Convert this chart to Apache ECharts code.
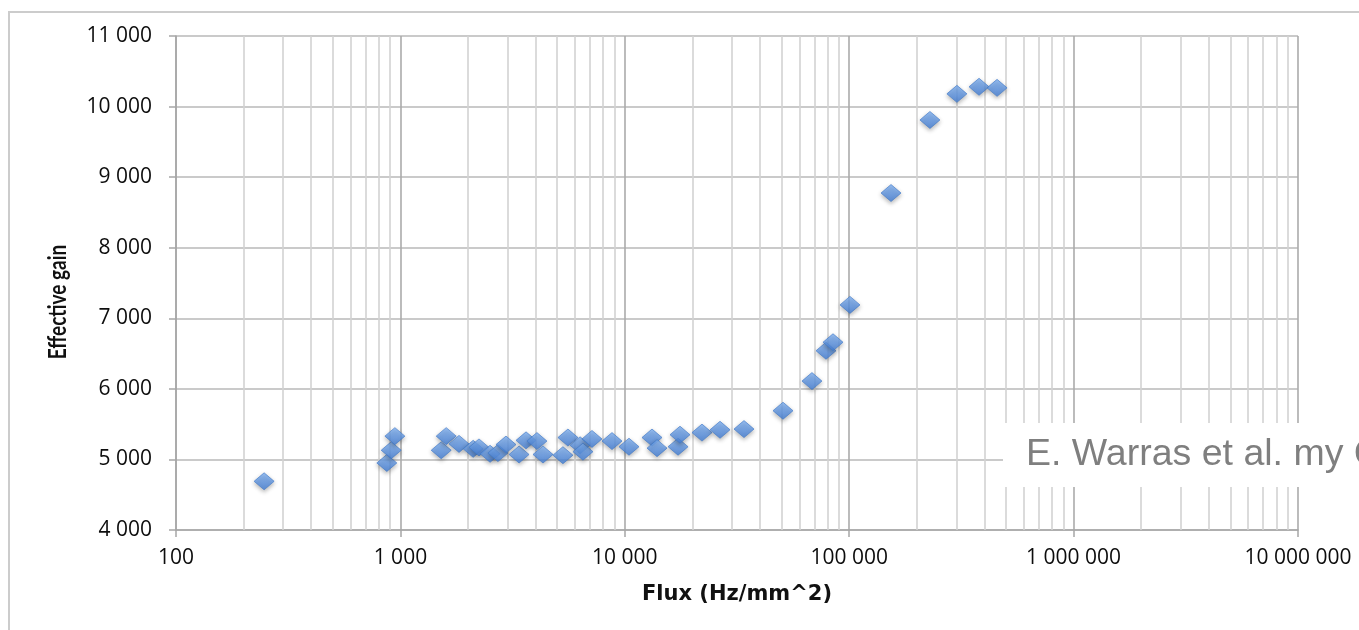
<!DOCTYPE html>
<html><head><meta charset="utf-8">
<script src="https://cdn.jsdelivr.net/npm/echarts@6/dist/echarts.min.js"></script>
<style>html,body{margin:0;padding:0;background:#fff}#c{width:1359px;height:630px}</style>
</head><body><div id="c"></div>
<script>
// Flux (Hz/mm^2)
const fluxValues = [247, 870, 910, 945, 1520, 1600, 1825, 2110, 2240, 2510, 2720, 2955, 3380, 3630, 4060, 4320, 5300, 5580, 6320, 6510, 7140, 8770, 10440, 13220, 13920, 17270, 17620, 22080, 26570, 33980, 50700, 68240, 78820, 84690, 100800, 153600, 229000, 302000, 379000, 456000];
// Effective gain
const gainValues = [4690, 4950, 5130, 5330, 5130, 5330, 5220, 5150, 5170, 5080, 5090, 5210, 5070, 5270, 5260, 5070, 5060, 5310, 5200, 5110, 5290, 5260, 5180, 5310, 5160, 5180, 5350, 5380, 5420, 5430, 5690, 6110, 6540, 6660, 7190, 8775, 9810, 10180, 10280, 10265];
const xAxisMin = 100, xAxisMax = 10000000;
const yAxisMin = 4000, yAxisMax = 11000, yStep = 1000;
const decades = [100, 1000, 10000, 100000, 1000000];
const minorMultipliers = [2, 3, 4, 5, 6, 7, 8, 9];
const xTitle = 'Flux (Hz/mm^2)';
const yTitle = 'Effective gain';
const noteText = 'E. Warras et al. my CERN';

const points = fluxValues.map((f, i) => [f, gainValues[i]]);
const minorLines = [];
decades.forEach(d => minorMultipliers.forEach(m => minorLines.push({ xAxis: d * m })));

function fmt(v) {
  const n = Math.round(v);
  return String(n).replace(/\B(?=(\d{3})+(?!\d))/g, ' ');
}

const chart = echarts.init(document.getElementById('c'), null, { renderer: 'canvas' });
chart.setOption({
  backgroundColor: '#ffffff',
  animation: false,
  grid: { left: 176, right: 61, top: 36, bottom: 100, containLabel: false },
  xAxis: {
    type: 'log', logBase: 10, min: xAxisMin, max: xAxisMax,
    axisLine: { show: true, lineStyle: { color: '#a6a6a6', width: 1.5 } },
    axisTick: { show: true, length: 7, lineStyle: { color: '#a6a6a6', width: 1.5 } },
    splitLine: { show: true, lineStyle: { color: '#ababab', width: 1.6 } },
    axisLabel: { margin: 18, fontFamily: 'Open Sans', fontSize: 21, color: '#0d0d0d', formatter: fmt }
  },
  yAxis: {
    type: 'value', min: yAxisMin, max: yAxisMax, interval: yStep,
    axisLine: { show: true, lineStyle: { color: '#a6a6a6', width: 1.5 } },
    axisTick: { show: true, length: 7, lineStyle: { color: '#a6a6a6', width: 1.5 } },
    splitLine: { show: true, lineStyle: { color: '#b8b8b8', width: 1.6 } },
    axisLabel: { margin: 24, fontFamily: 'Open Sans', fontSize: 21, color: '#0d0d0d', formatter: fmt }
  },
  series: [
    {
      type: 'scatter', data: [], z: 1, silent: true,
      markLine: {
        silent: true, symbol: 'none', animation: false,
        label: { show: false },
        lineStyle: { color: '#d2d2d2', width: 1.6, type: 'solid' },
        data: minorLines
      }
    },
    {
      type: 'scatter', z: 5, data: points,
      symbol: 'diamond', symbolSize: [20, 17],
      itemStyle: {
        color: new echarts.graphic.LinearGradient(0, 0, 0, 1, [
          { offset: 0, color: '#82b4f5' },
          { offset: 1, color: '#437fd8' }
        ]),
        borderColor: '#3f78c8', borderWidth: 0.8,
        shadowBlur: 4, shadowColor: 'rgba(0,0,0,0.35)', shadowOffsetY: 2
      }
    }
  ],
  graphic: [
    { type: 'rect', z: -10, silent: true, shape: { x: 9, y: 12, width: 1400, height: 700 },
      style: { fill: 'none', stroke: '#cccccc', lineWidth: 2 } },
    { type: 'text', z: 10, silent: true, x: 737, y: 595,
      style: { text: xTitle, font: 'bold 21px "DejaVu Sans"', fill: '#111111', textAlign: 'center', textVerticalAlign: 'middle' } },
    { type: 'text', z: 10, silent: true, x: 58, y: 302, rotation: Math.PI / 2, scaleY: 1.3,
      style: { text: yTitle, font: 'bold 19px Lato', fill: '#111111', textAlign: 'center', textVerticalAlign: 'middle' } },
    { type: 'rect', z: 50, silent: true, shape: { x: 1003, y: 423, width: 400, height: 64 },
      style: { fill: '#ffffff' } },
    { type: 'text', z: 51, silent: true, x: 1026, y: 455,
      style: { text: noteText, font: '37.5px "Liberation Sans"', fill: '#7f7f7f', textAlign: 'left', textVerticalAlign: 'middle' } }
  ]
});
</script>
</body></html>
